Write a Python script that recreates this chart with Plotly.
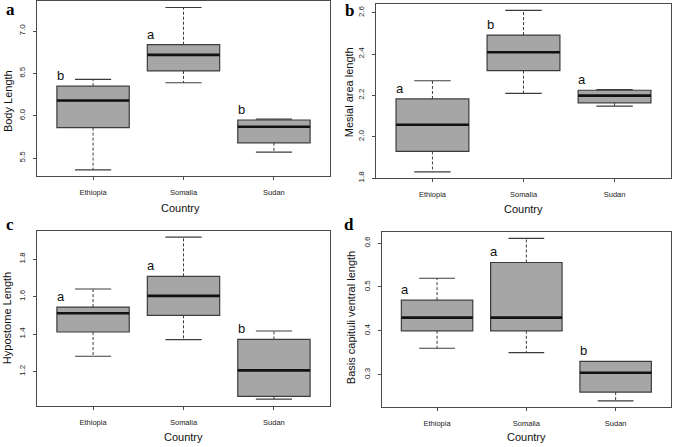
import plotly.graph_objects as go

countries = ["Ethiopia", "Somalia", "Sudan"]
positions = [1, 2, 3]

# per panel: lower whisker, Q1, median, Q3, upper whisker (Ethiopia, Somalia, Sudan)
body_low = [5.36, 6.39, 5.57]
body_q1 = [5.86, 6.53, 5.68]
body_med = [6.18, 6.72, 5.87]
body_q3 = [6.35, 6.84, 5.95]
body_high = [6.43, 7.28, 5.96]
body_letters = ["b", "a", "b"]

mesial_low = [1.83, 2.21, 2.148]
mesial_q1 = [1.929, 2.32, 2.164]
mesial_med = [2.058, 2.409, 2.199]
mesial_q3 = [2.183, 2.492, 2.225]
mesial_high = [2.271, 2.611, 2.228]
mesial_letters = ["a", "b", "a"]

hypo_low = [1.281, 1.37, 1.052]
hypo_q1 = [1.411, 1.50, 1.067]
hypo_med = [1.511, 1.604, 1.206]
hypo_q3 = [1.544, 1.708, 1.371]
hypo_high = [1.641, 1.918, 1.416]
hypo_letters = ["a", "a", "b"]

basis_low = [0.36, 0.35, 0.24]
basis_q1 = [0.40, 0.40, 0.26]
basis_med = [0.43, 0.43, 0.304]
basis_q3 = [0.47, 0.556, 0.33]
basis_high = [0.52, 0.611, 0.33]
basis_letters = ["a", "a", "b"]

y_titles = ["Body Length", "Mesial area length", "Hypostome Length", "Basis capituli ventral length"]
panel_tags = ["a", "b", "c", "d"]
y_dticks = [0.5, 0.2, 0.2, 0.1]

panels = [
    (body_low, body_q1, body_med, body_q3, body_high, body_letters),
    (mesial_low, mesial_q1, mesial_med, mesial_q3, mesial_high, mesial_letters),
    (hypo_low, hypo_q1, hypo_med, hypo_q3, hypo_high, hypo_letters),
    (basis_low, basis_q1, basis_med, basis_q3, basis_high, basis_letters),
]

W, H = 676, 447
# plot areas in pixels: left, right, top, bottom
areas = [(37, 330, 1, 178), (376, 671, 4, 180), (37, 330, 232.7, 409.3), (381.7, 671, 234, 411)]
ytitle_pos = [(8, 102), (349, 93), (7, 321), (351, 321)]
country_pos = [(180, 210), (523, 211), (183, 441), (526, 441)]
tag_pos = [(10, 10), (349, 11), (10, 227), (349, 227)]

FILL = "#a6a6a6"
EDGE = "#3c3c3c"
FRAME = "#4a4a4a"
FONT = "Liberation Sans, Arial, sans-serif"

fig = go.Figure()
annotations = []
BOXW = 0.8

for i, (low, q1, med, q3, high, letters) in enumerate(panels):
    n = i + 1
    xa = "x" if n == 1 else f"x{n}"
    ya = "y" if n == 1 else f"y{n}"
    l, r, t, b = areas[i]

    fig.add_trace(go.Box(
        x=positions, q1=q1, median=med, q3=q3, lowerfence=q1, upperfence=q3,
        width=BOXW, fillcolor=FILL, line=dict(color=EDGE, width=1.2),
        xaxis=xa, yaxis=ya, showlegend=False, hoverinfo="skip",
    ))
    # medians
    mx, my = [], []
    for p, m in zip(positions, med):
        mx += [p - BOXW / 2, p + BOXW / 2, None]
        my += [m, m, None]
    fig.add_trace(go.Scatter(x=mx, y=my, mode="lines", line=dict(color="#111111", width=2.6),
                             xaxis=xa, yaxis=ya, showlegend=False, hoverinfo="skip"))
    # dashed whiskers
    wx, wy = [], []
    for p, lo, a, c, hi in zip(positions, low, q1, q3, high):
        wx += [p, p, None, p, p, None]
        wy += [c, hi, None, a, lo, None]
    fig.add_trace(go.Scatter(x=wx, y=wy, mode="lines", line=dict(color=EDGE, width=1, dash="3px,2px"),
                             xaxis=xa, yaxis=ya, showlegend=False, hoverinfo="skip"))
    # staples
    sx, sy = [], []
    for p, lo, hi in zip(positions, low, high):
        sx += [p - BOXW / 4, p + BOXW / 4, None, p - BOXW / 4, p + BOXW / 4, None]
        sy += [hi, hi, None, lo, lo, None]
    fig.add_trace(go.Scatter(x=sx, y=sy, mode="lines", line=dict(color=EDGE, width=1.1),
                             xaxis=xa, yaxis=ya, showlegend=False, hoverinfo="skip"))

    ymin, ymax = min(low), max(high)
    pad = 0.04 * (ymax - ymin)
    yr = [ymin - pad, ymax + pad]
    span = yr[1] - yr[0]

    for p, c, let in zip(positions, q3, letters):
        annotations.append(dict(x=p - 0.36, y=c + 0.06 * span, xref=xa, yref=ya, text=let,
                                showarrow=False, xanchor="center", yanchor="middle",
                                font=dict(family=FONT, size=13, color="#111111")))

    axis_common = dict(showline=True, linecolor=FRAME, linewidth=1, mirror=True,
                       ticks="outside", ticklen=3, tickcolor=FRAME, showgrid=False,
                       zeroline=False, tickfont=dict(family=FONT, size=7.5, color="#222222"))
    fig.layout[f"xaxis{'' if n == 1 else n}"] = dict(
        domain=[l / W, r / W], anchor=ya, range=[0.38, 3.62],
        tickvals=positions, ticktext=countries, ticklabelstandoff=6, **axis_common)
    yc = dict(axis_common)
    yc["tickfont"] = dict(family=FONT, size=8, color="#222222")
    fig.layout[f"yaxis{'' if n == 1 else n}"] = dict(
        domain=[1 - b / H, 1 - t / H], anchor=xa, range=yr, dtick=y_dticks[i],
        tickformat=".1f", tickangle=-90, ticklabelstandoff=5, **yc)

    tx, ty = ytitle_pos[i]
    annotations.append(dict(x=tx / W, y=1 - ty / H, xref="paper", yref="paper", text=y_titles[i],
                            textangle=-90, showarrow=False, xanchor="center", yanchor="middle",
                            font=dict(family=FONT, size=11, color="#111111")))
    cx, cy = country_pos[i]
    annotations.append(dict(x=cx / W, y=1 - cy / H, xref="paper", yref="paper", text="Country",
                            showarrow=False, xanchor="center", yanchor="middle",
                            font=dict(family=FONT, size=11, color="#111111")))
    px, py = tag_pos[i]
    annotations.append(dict(x=px / W, y=1 - py / H, xref="paper", yref="paper",
                            text=f"<b>{panel_tags[i]}</b>", showarrow=False,
                            xanchor="center", yanchor="middle", borderpad=0,
                            font=dict(family="Liberation Serif, Times New Roman, serif", size=17, color="#000000")))

fig.update_layout(width=W, height=H, margin=dict(l=0, r=0, t=0, b=0),
                  paper_bgcolor="white", plot_bgcolor="white",
                  annotations=annotations, showlegend=False)

fig.write_html("out.html", config={"displayModeBar": False},
               post_script="document.body.style.margin='0';document.body.style.padding='0';")
